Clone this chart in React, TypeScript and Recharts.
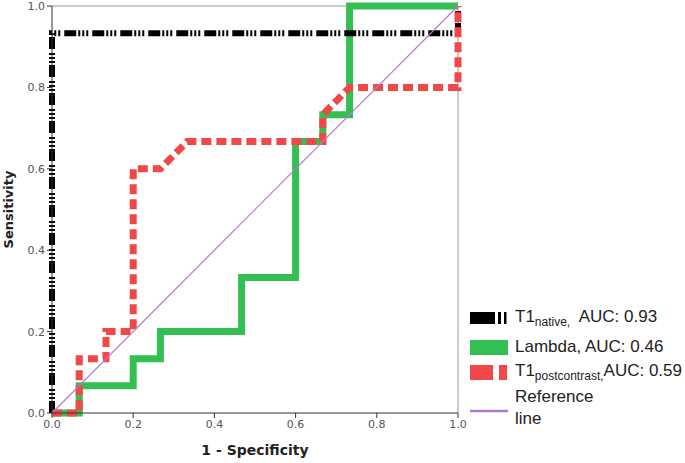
import { LineChart, Line, XAxis, YAxis, ReferenceLine } from "recharts"

// ROC curve points (x = 1 - specificity, y = sensitivity)
const t1Native = [
  { x: 0, y: 0 },
  { x: 0, y: 0.933 },
  { x: 1, y: 0.933 },
  { x: 1, y: 1 },
]

const lambda = [
  { x: 0, y: 0 },
  { x: 0.067, y: 0 },
  { x: 0.067, y: 0.067 },
  { x: 0.2, y: 0.067 },
  { x: 0.2, y: 0.133 },
  { x: 0.267, y: 0.133 },
  { x: 0.267, y: 0.2 },
  { x: 0.467, y: 0.2 },
  { x: 0.467, y: 0.333 },
  { x: 0.6, y: 0.333 },
  { x: 0.6, y: 0.667 },
  { x: 0.667, y: 0.667 },
  { x: 0.667, y: 0.733 },
  { x: 0.733, y: 0.733 },
  { x: 0.733, y: 1 },
  { x: 1, y: 1 },
]

const t1Post = [
  { x: 0, y: 0 },
  { x: 0.067, y: 0 },
  { x: 0.067, y: 0.133 },
  { x: 0.133, y: 0.133 },
  { x: 0.133, y: 0.2 },
  { x: 0.2, y: 0.2 },
  { x: 0.2, y: 0.6 },
  { x: 0.267, y: 0.6 },
  { x: 0.333, y: 0.667 },
  { x: 0.667, y: 0.667 },
  { x: 0.667, y: 0.733 },
  { x: 0.733, y: 0.8 },
  { x: 1, y: 0.8 },
  { x: 1, y: 1 },
]

const reference = [
  { x: 0, y: 0 },
  { x: 1, y: 1 },
]

const ticks = [0, 0.2, 0.4, 0.6, 0.8, 1]

const BLACK_DASH = "12 2 2 2 2 2 2 4"
const RED_DASH = "10 5"

const tickStyle = { fill: "#555", fontSize: 11, fontFamily: "DejaVu Sans" }
const fmt = (v: number) => v.toFixed(1)

function LegendBox() {
  const row = { position: "absolute" as const, left: 0, display: "flex", alignItems: "center" }
  const txt = { fontFamily: "Liberation Sans, Arial", fontSize: 17, color: "#222", whiteSpace: "nowrap" as const }
  return (
    <div style={{ position: "absolute", left: 469, top: 306, width: 216, height: 120 }}>
      <div style={{ ...row, top: 1 }}>
        <svg width={40} height={16}>
          <rect x={1} y={2} width={25} height={12} fill="#000" />
          <rect x={29} y={2} width={3} height={12} fill="#000" />
          <rect x={35} y={2} width={2.5} height={12} fill="#000" />
        </svg>
        <span style={{ ...txt, marginLeft: 6 }}>
          T1<sub style={{ fontSize: 12 }}>native,</sub>&nbsp; AUC: 0.93
        </span>
      </div>
      <div style={{ ...row, top: 31 }}>
        <svg width={40} height={16}>
          <rect x={1} y={1} width={38} height={15} fill="#33bf52" />
        </svg>
        <span style={{ ...txt, marginLeft: 6 }}>Lambda, AUC: 0.46</span>
      </div>
      <div style={{ ...row, top: 55 }}>
        <svg width={40} height={16}>
          <rect x={1} y={1} width={23} height={15} fill="#f04848" />
          <rect x={30} y={1} width={8} height={15} fill="#f04848" />
        </svg>
        <span style={{ ...txt, marginLeft: 6 }}>
          T1<sub style={{ fontSize: 12 }}>postcontrast,</sub>AUC: 0.59
        </span>
      </div>
      <div style={{ ...row, top: 80 }}>
        <svg width={40} height={16}>
          <line x1={1} x2={39} y1={11} y2={11} stroke="#b07cc6" strokeWidth={2.5} />
        </svg>
        <span style={{ ...txt, marginLeft: 6, lineHeight: "22px" }}>
          Reference
          <br />
          line
        </span>
      </div>
    </div>
  )
}

export default function App() {
  return (
    <div style={{ position: "absolute", left: 0, top: 0, width: 685, height: 463, background: "#fff" }}>
      <LineChart width={685} height={463} margin={{ top: 6, right: 227, left: 8, bottom: 4 }}>
        <XAxis
          dataKey="x"
          type="number"
          domain={[0, 1]}
          ticks={ticks}
          tickFormatter={fmt}
          tick={tickStyle}
          stroke="#333"
          tickSize={5}
          height={46}
          label={{
            value: "1 - Specificity",
            position: "insideBottom",
            offset: 4,
            style: { fontFamily: "DejaVu Sans", fontWeight: "bold", fontSize: 14, fill: "#222" },
          }}
        />
        <YAxis
          dataKey="y"
          type="number"
          domain={[0, 1]}
          ticks={ticks}
          tickFormatter={fmt}
          tick={tickStyle}
          stroke="#333"
          tickSize={5}
          width={44}
          label={{
            value: "Sensitivity",
            angle: -90,
            position: "insideLeft",
            offset: 0,
            style: { fontFamily: "DejaVu Sans", fontWeight: "bold", fontSize: 13, fill: "#222", textAnchor: "middle" },
          }}
        />
        <ReferenceLine y={1} stroke="#999" />
        <ReferenceLine x={1} stroke="#999" />
        <Line data={lambda} dataKey="y" type="linear" stroke="#33bf52" strokeWidth={7} dot={false} isAnimationActive={false} />
        <Line data={t1Native} dataKey="y" type="linear" stroke="#000" strokeWidth={6} strokeDasharray={BLACK_DASH} dot={false} isAnimationActive={false} />
        <Line data={t1Post} dataKey="y" type="linear" stroke="#f04848" strokeWidth={7} strokeDasharray={RED_DASH} dot={false} isAnimationActive={false} />
        <Line data={reference} dataKey="y" type="linear" stroke="#b07cc6" strokeWidth={1.2} dot={false} isAnimationActive={false} />
      </LineChart>
      <LegendBox />
    </div>
  )
}
